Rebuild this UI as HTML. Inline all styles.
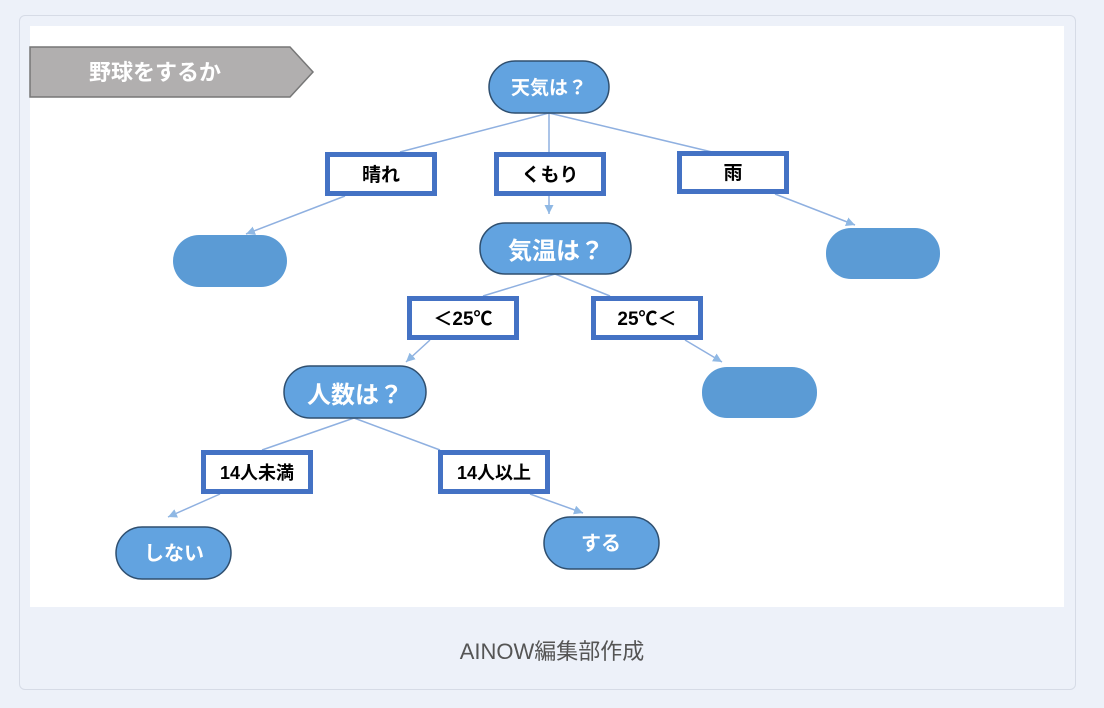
<!DOCTYPE html>
<html><head><meta charset="utf-8"><style>
html,body{margin:0;padding:0;background:#edf1f9;width:1104px;height:708px;overflow:hidden}
.card{position:absolute;left:19px;top:15px;width:1055px;height:673px;border:1px solid #d6dbe6;border-radius:6px;background:#edf1f9}
.cap{position:absolute;left:0;width:1104px;top:634px;text-align:center;font:22px "Liberation Sans","Noto Sans CJK JP",sans-serif;color:#555}
svg{position:absolute;left:0;top:0}
text{font-family:"Liberation Sans","Noto Sans CJK JP",sans-serif;font-weight:bold}
</style></head><body>
<div class="card"></div>
<svg width="1104" height="708" viewBox="0 0 1104 708">
<defs><marker id="a" markerWidth="8" markerHeight="8" refX="6" refY="3" orient="auto"><path d="M0,0 L6,3 L0,6 z" fill="#8fb8e4"/></marker></defs>
<rect x="30" y="26" width="1034" height="581" fill="#fff"/>
<polygon points="30,47 290,47 313,72 290,97 30,97" fill="#b1afaf" stroke="#777" stroke-width="1.5"/>
<text x="155" y="80" font-size="22" fill="#fff" text-anchor="middle">野球をするか</text>
<g stroke="#8fb0e0" stroke-width="1.5" fill="none">
<line x1="549" y1="113" x2="400" y2="152"/>
<line x1="549" y1="113" x2="549" y2="152"/>
<line x1="549" y1="113" x2="712" y2="152"/>
<line x1="345" y1="196" x2="246" y2="234" marker-end="url(#a)"/>
<line x1="549" y1="196" x2="549" y2="214" marker-end="url(#a)"/>
<line x1="775" y1="194" x2="855" y2="225" marker-end="url(#a)"/>
<line x1="555" y1="274" x2="483" y2="296"/>
<line x1="555" y1="274" x2="610" y2="296"/>
<line x1="430" y1="340" x2="406" y2="362" marker-end="url(#a)"/>
<line x1="685" y1="340" x2="722" y2="362" marker-end="url(#a)"/>
<line x1="354" y1="418" x2="262" y2="450"/>
<line x1="354" y1="418" x2="440" y2="450"/>
<line x1="220" y1="494" x2="168" y2="517" marker-end="url(#a)"/>
<line x1="530" y1="494" x2="583" y2="513" marker-end="url(#a)"/>
</g>
<g fill="#5b9bd5">
<rect x="489" y="61" width="120" height="52" rx="26" stroke="#2f4f6f" stroke-width="1.5" fill="#62a3e0"/>
<rect x="480" y="223" width="151" height="51" rx="25" stroke="#2f4f6f" stroke-width="1.5" fill="#62a3e0"/>
<rect x="284" y="366" width="142" height="52" rx="26" stroke="#2f4f6f" stroke-width="1.5" fill="#62a3e0"/>
<rect x="173" y="235" width="114" height="52" rx="26"/>
<rect x="826" y="228" width="114" height="51" rx="25"/>
<rect x="702" y="367" width="115" height="51" rx="25"/>
<rect x="116" y="527" width="115" height="52" rx="26" stroke="#2f4f6f" stroke-width="1.5" fill="#62a3e0"/>
<rect x="544" y="517" width="115" height="52" rx="26" stroke="#2f4f6f" stroke-width="1.5" fill="#62a3e0"/>
</g>
<g fill="#fff" text-anchor="middle">
<text x="549" y="94" font-size="19">天気は？</text>
<text x="556" y="259" font-size="24">気温は？</text>
<text x="355" y="403" font-size="24">人数は？</text>
<text x="174" y="560" font-size="20">しない</text>
<text x="601" y="550" font-size="20">する</text>
</g>
<g fill="#fff" stroke="#4472c4" stroke-width="5">
<rect x="327.5" y="154.5" width="107" height="39"/>
<rect x="496.5" y="154.5" width="107" height="39"/>
<rect x="679.5" y="153.5" width="107" height="38"/>
<rect x="409.5" y="298.5" width="107" height="39"/>
<rect x="593.5" y="298.5" width="107" height="39"/>
<rect x="203.5" y="452.5" width="107" height="39"/>
<rect x="440.5" y="452.5" width="107" height="39"/>
</g>
<g fill="#000" text-anchor="middle" font-size="19">
<text x="381" y="181">晴れ</text>
<text x="550" y="181">くもり</text>
<text x="733" y="179">雨</text>
<text x="463" y="325">＜25℃</text>
<text x="647" y="325">25℃＜</text>
<text x="257" y="479" font-size="18">14人未満</text>
<text x="494" y="479" font-size="18">14人以上</text>
</g>
</svg>
<div class="cap">AINOW編集部作成</div>
</body></html>
